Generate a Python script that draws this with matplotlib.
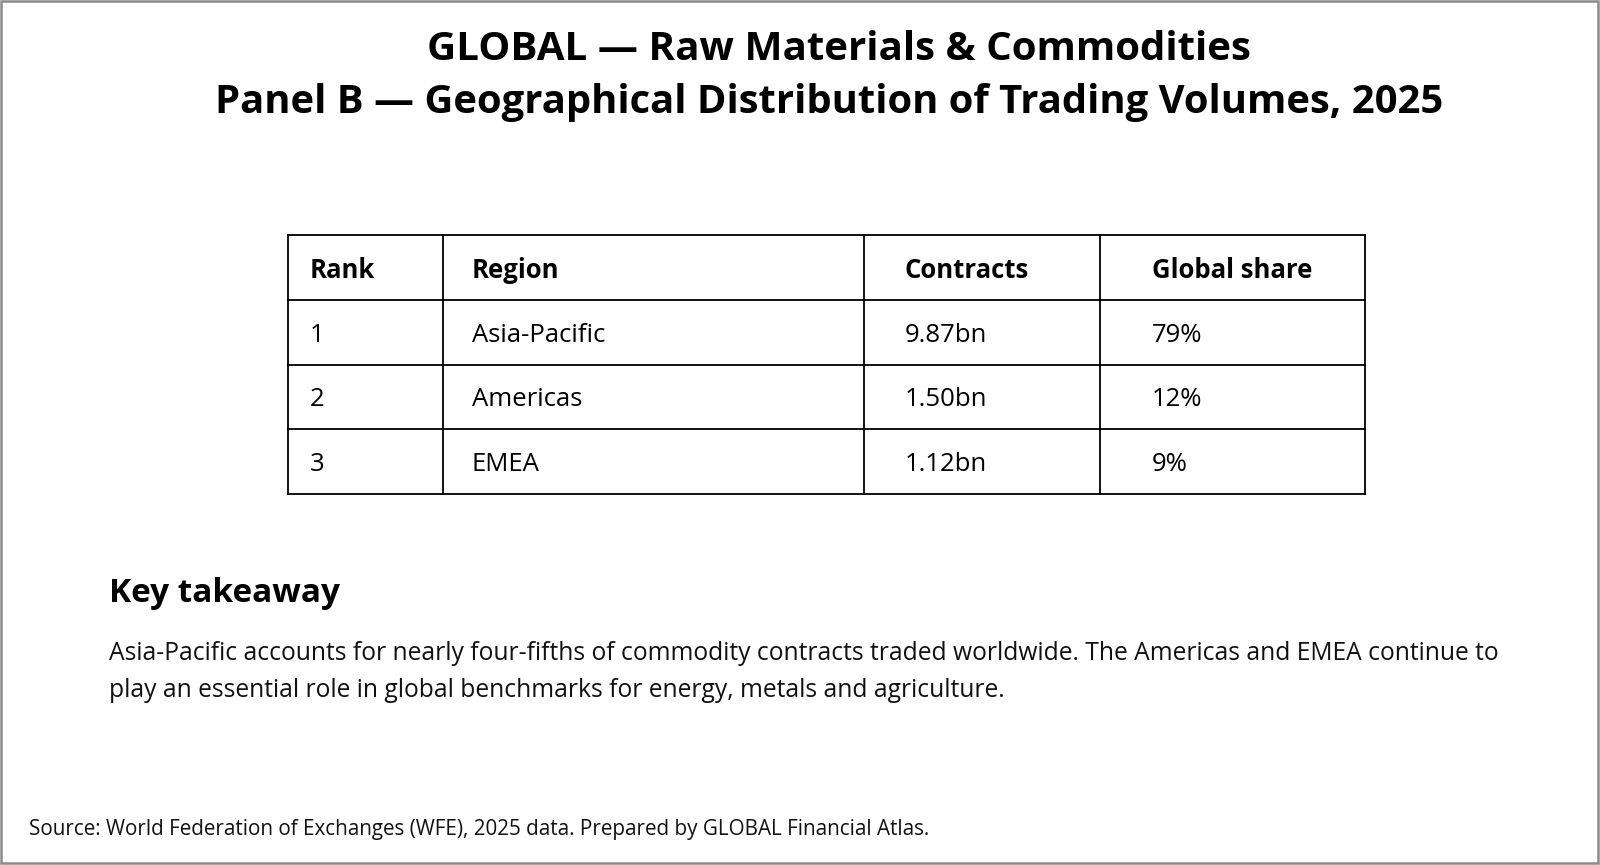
import matplotlib.pyplot as plt
from matplotlib.patches import Rectangle

plt.rcParams['font.family'] = ['Open Sans', 'DejaVu Sans']

TITLE_1 = "GLOBAL \u2014 Raw Materials & Commodities"
TITLE_2 = "Panel B \u2014 Geographical Distribution of Trading Volumes, 2025"
HEADERS = ["Rank", "Region", "Contracts", "Global share"]
RANKS = ["1", "2", "3"]
REGIONS = ["Asia-Pacific", "Americas", "EMEA"]
CONTRACTS = ["9.87bn", "1.50bn", "1.12bn"]
SHARES = ["79%", "12%", "9%"]
TAKEAWAY = ("Asia-Pacific accounts for nearly four-fifths of commodity contracts traded worldwide. "
            "The Americas and EMEA continue to\nplay an essential role in global benchmarks for "
            "energy, metals and agriculture.")
SOURCE = "Source: World Federation of Exchanges (WFE), 2025 data. Prepared by GLOBAL Financial Atlas."

# table layout, in pixels
col_edges = [288, 443, 864, 1100, 1365]
row_edges = [235, 300, 365, 429, 494]
text_x = [310, 472, 905, 1152]

fig = plt.figure(figsize=(16, 8.65), dpi=100)
ax = fig.add_axes([0, 0, 1, 1])
ax.set_xlim(0, 1600)
ax.set_ylim(865, 0)
ax.axis('off')

# grey frame round the figure
ax.add_patch(Rectangle((1, 1), 1597, 862, fill=False, edgecolor='#8a8a8a', lw=1.8))

ax.text(839, 50, TITLE_1, ha='center', va='center', fontsize=29, fontweight='bold', color='black')
ax.text(829, 103, TITLE_2, ha='center', va='center', fontsize=28.8, fontweight='bold', color='black')

# grid
for x in col_edges:
    ax.plot([x, x], [row_edges[0], row_edges[-1]], color='black', lw=1.3)
for y in row_edges:
    ax.plot([col_edges[0], col_edges[-1]], [y, y], color='black', lw=1.3)

rows = [HEADERS] + [list(r) for r in zip(RANKS, REGIONS, CONTRACTS, SHARES)]
for i, row in enumerate(rows):
    yc = (row_edges[i] + row_edges[i + 1]) / 2 + 3
    for j, val in enumerate(row):
        ax.text(text_x[j], yc, val, ha='left', va='center', fontsize=18.5,
                fontweight='bold' if i == 0 else 'normal', color='black')

ax.text(109, 594, "Key takeaway", ha='left', va='center', fontsize=24,
        fontweight='bold', color='black')
ax.text(109, 672, TAKEAWAY, ha='left', va='center', fontsize=17.75,
        linespacing=1.6, color='#111111')
ax.text(29, 830, SOURCE, ha='left', va='center', fontsize=14.85, color='#111111')

fig.savefig('out.png', dpi=100)
